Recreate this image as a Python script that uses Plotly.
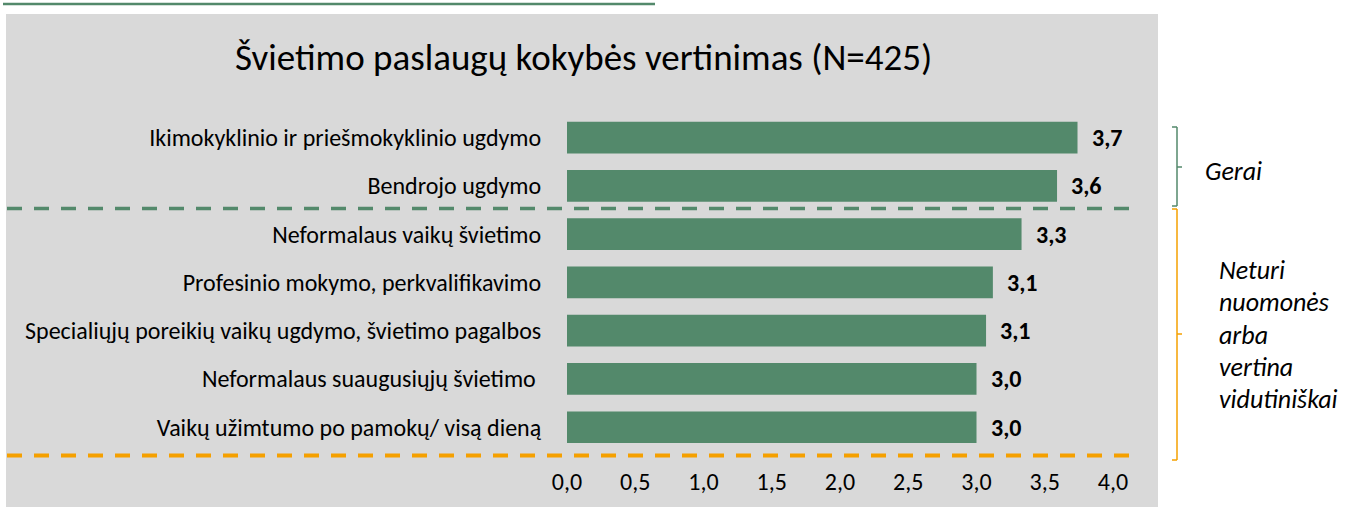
import plotly.graph_objects as go

# ---------------- data ----------------
categories = [
    "Ikimokyklinio ir priešmokyklinio ugdymo",
    "Bendrojo ugdymo",
    "Neformalaus vaikų švietimo",
    "Profesinio mokymo, perkvalifikavimo",
    "Specialiųjų poreikių vaikų ugdymo, švietimo pagalbos",
    "Neformalaus suaugusiųjų švietimo\u00a0",
    "Vaikų užimtumo po pamokų/ visą dieną",
]
values = [3.74, 3.59, 3.33, 3.12, 3.07, 3.00, 3.00]
x_ticks = [0, 0.5, 1, 1.5, 2, 2.5, 3, 3.5, 4]
title_text = "Švietimo paslaugų kokybės vertinimas (N=425)"
group_good = "Gerai"
group_mid_lines = ["Neturi", "nuomonės", "arba", "vertina", "vidutiniškai"]

# ---------------- style ----------------
GREEN = "#53896b"
ORANGE = "#f5a000"
GRAY = "#d9d9d9"
FONT = "Carlito, Lato, sans-serif"

W, H = 1352, 507
L, R, T, B = 567, 239, 111, 45
PW = W - L - R
PH = H - T - B


def px(x):
    return (x - L) / PW


def py(y):
    return (H - B - y) / PH


def fmt(v):
    return f"{v:.1f}".replace(".", ",")


fig = go.Figure(
    go.Bar(
        x=values,
        y=categories,
        orientation="h",
        marker=dict(color=GREEN, line=dict(width=0)),
        hoverinfo="skip",
    )
)

# value labels
for c, v in zip(categories, values):
    fig.add_annotation(
        x=v, y=c, xref="x", yref="y", text=fmt(v), showarrow=False,
        xanchor="left", yanchor="middle", xshift=12,
        font=dict(family=FONT, size=24, color="#000000", weight="bold"),
    )

shapes = []
# gray background panel
shapes.append(dict(type="rect", xref="paper", yref="paper",
                   x0=px(6), x1=px(1158), y0=py(512), y1=py(14),
                   fillcolor=GRAY, line=dict(width=0), layer="below"))
# top green line
shapes.append(dict(type="line", xref="paper", yref="paper",
                   x0=px(3), x1=px(655), y0=py(4), y1=py(4),
                   line=dict(color=GREEN, width=2.5)))
# dashed separators
shapes.append(dict(type="line", xref="paper", yref="paper",
                   x0=px(7), x1=px(1132), y0=py(208.5), y1=py(208.5),
                   line=dict(color=GREEN, width=3.5, dash="15px,12px")))
shapes.append(dict(type="line", xref="paper", yref="paper",
                   x0=px(7), x1=px(1132), y0=py(455.5), y1=py(455.5),
                   line=dict(color=ORANGE, width=3.8, dash="15px,12px")))


def bracket(top, bottom, mid, color):
    xv = 1177
    out = []
    seg = [
        (xv, top, xv, bottom),
        (1172, top, xv, top),
        (1172, bottom, xv, bottom),
        (xv, mid, 1182, mid),
    ]
    for x0, y0, x1, y1 in seg:
        out.append(dict(type="line", xref="paper", yref="paper",
                        x0=px(x0), x1=px(x1), y0=py(y0), y1=py(y1),
                        line=dict(color=color, width=1.5)))
    return out


shapes += bracket(127, 206, 167, GREEN)
shapes += bracket(209, 460, 334, ORANGE)

fig.update_layout(shapes=shapes)

# title
fig.add_annotation(
    x=px(583), y=py(57), xref="paper", yref="paper", text=title_text,
    showarrow=False, xanchor="center", yanchor="middle",
    font=dict(family=FONT, size=37, color="#000000"),
)

# group labels
fig.add_annotation(
    x=px(1203), y=py(171), xref="paper", yref="paper", text=f"<i>{group_good}</i>",
    showarrow=False, xanchor="left", yanchor="middle",
    font=dict(family=FONT, size=26, color="#000000"),
)
for i, line in enumerate(group_mid_lines):
    fig.add_annotation(
        x=px(1217), y=py(270 + i * 32.3), xref="paper", yref="paper",
        text=f"<i>{line}</i>", showarrow=False, xanchor="left", yanchor="middle",
        font=dict(family=FONT, size=26, color="#000000"),
    )

fig.update_layout(
    width=W, height=H,
    margin=dict(l=L, r=R, t=T, b=B, pad=0, autoexpand=False),
    paper_bgcolor="white",
    plot_bgcolor="rgba(0,0,0,0)",
    bargap=0.343,
    showlegend=False,
    separators=",.",
    font=dict(family=FONT, size=24, color="#000000"),
    xaxis=dict(
        range=[0, 4], tickvals=x_ticks, tickformat=".1f",
        showgrid=False, zeroline=False, showline=False,
        ticks="", ticklabelstandoff=3,
        tickfont=dict(family=FONT, size=24, color="#000000"),
        automargin=False, fixedrange=True,
    ),
    yaxis=dict(
        type="category", categoryorder="array", categoryarray=categories,
        range=[6.72, -0.55],
        showgrid=False, zeroline=False, showline=False,
        ticks="outside", ticklen=20, tickcolor="rgba(0,0,0,0)",
        tickfont=dict(family=FONT, size=24, color="#000000"),
        automargin=False, fixedrange=True,
    ),
)

fig.write_html(
    "out.html",
    config={"displayModeBar": False},
    post_script="document.body.style.margin='0';document.body.style.overflow='hidden';",
)
